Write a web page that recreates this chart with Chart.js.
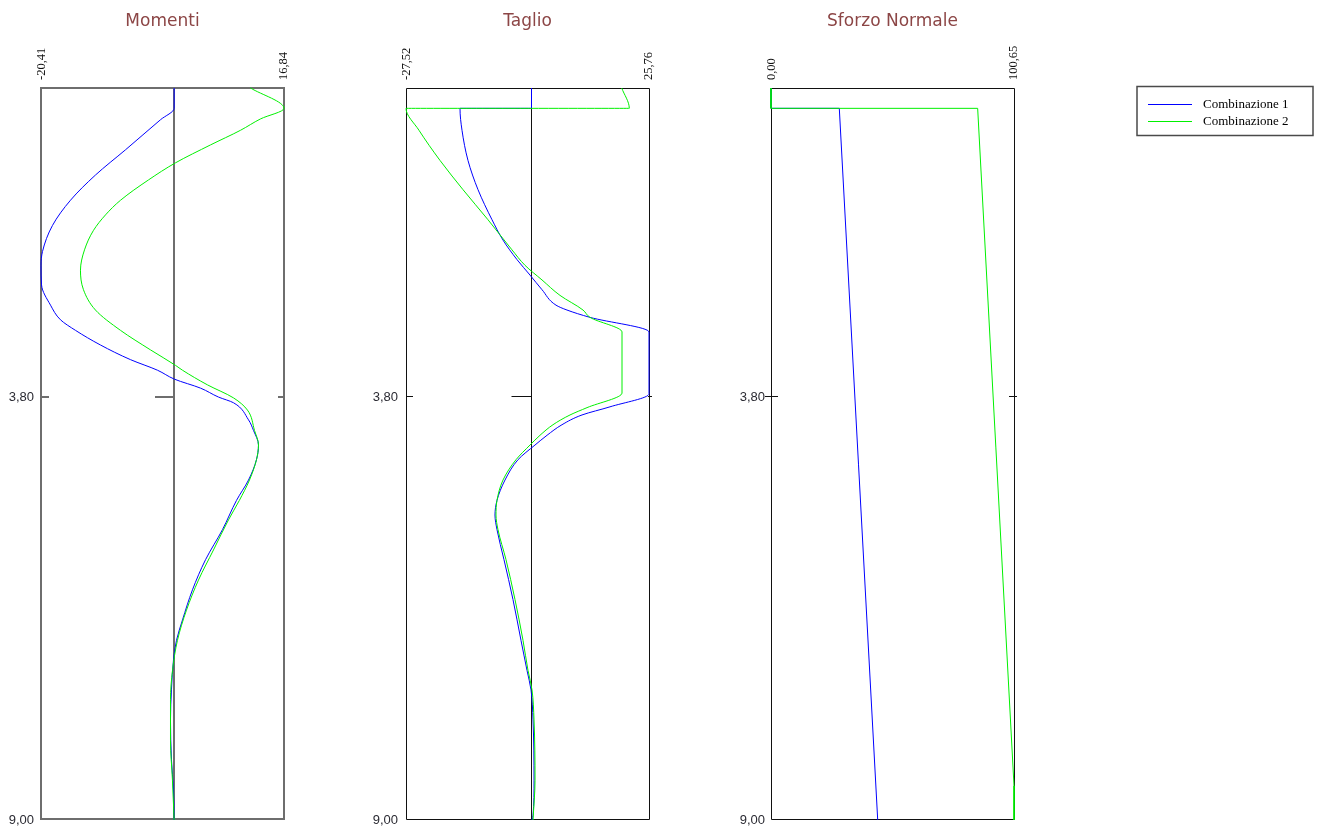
<!DOCTYPE html>
<html>
<head>
<meta charset="utf-8">
<script src="https://cdn.jsdelivr.net/npm/chart.js@4.4.1/dist/chart.umd.min.js"></script>
<style>
html,body{margin:0;padding:0;background:#fff;}
#wrap{position:relative;width:1319px;height:830px;overflow:hidden;background:#fff;}
#wrap canvas{position:absolute;left:0;top:0;}
</style>
</head>
<body>
<div id="wrap">
<canvas id="c0" width="1319" height="830"></canvas>
<canvas id="c1" width="1319" height="830"></canvas>
<canvas id="c2" width="1319" height="830"></canvas>
</div>
<script>
// ---------- data (depth in m, value) ----------
const seriesNames = ['Combinazione 1', 'Combinazione 2'];
const panelTitles = ['Momenti', 'Taglio', 'Sforzo Normale'];
const xMinValues = [-20.41, -27.52, 0.00];
const xMaxValues = [16.84, 25.76, 100.65];
const depthTicks = [3.80, 9.00];
const depthMax = 9.00;

// Momenti
const momDepth1 = [0, 0.25, 0.39, 0.76, 1.07, 1.38, 1.69, 2.01, 2.18, 2.42, 2.67, 2.85, 2.98, 3.16, 3.34, 3.47, 3.58, 3.69, 3.80, 3.87, 4.08, 4.21, 4.39, 4.57, 4.82, 5.07, 5.43, 5.80, 6.17, 6.54, 6.79, 7.03, 7.40, 7.77, 8.26, 8.63, 9.00];
const momVal1   = [0, 0, -2.09, -7.46, -12.06, -15.89, -18.65, -20.18, -20.41, -20.33, -18.95, -17.42, -15.12, -11.29, -6.69, -2.55, 0.05, 4.04, 6.80, 9.10, 11.40, 12.16, 12.93, 12.62, 11.40, 9.56, 7.41, 4.81, 2.81, 1.28, 0.36, -0.10, -0.41, -0.56, -0.41, -0.10, 0];
const momDepth2 = [0, 0.25, 0.38, 0.52, 0.70, 0.92, 1.13, 1.38, 1.56, 1.75, 1.99, 2.24, 2.48, 2.73, 2.98, 3.22, 3.41, 3.47, 3.65, 3.81, 3.96, 4.21, 4.39, 4.57, 4.82, 5.07, 5.31, 5.68, 6.05, 6.42, 6.79, 7.16, 7.52, 8.02, 8.51, 9.00];
const momVal2   = [11.70, 16.84, 13.24, 10.17, 5.57, 0.21, -3.93, -8.22, -10.52, -12.36, -13.74, -14.36, -13.90, -12.06, -8.22, -3.62, 0.21, 1.28, 5.11, 9.10, 11.24, 12.32, 12.93, 12.62, 11.55, 10.00, 8.33, 6.03, 3.73, 1.89, 0.51, -0.25, -0.56, -0.56, -0.26, 0];

// Taglio
const tagDepth1 = [0, 0.25, 0.25, 0.52, 0.89, 1.25, 1.62, 1.87, 2.11, 2.30, 2.48, 2.67, 2.73, 2.82, 3.00, 3.76, 3.92, 4.02, 4.14, 4.27, 4.39, 4.57, 4.82, 5.07, 5.25, 5.43, 5.80, 6.29, 6.79, 7.16, 7.40, 7.77, 8.51, 8.94, 9.00];
const tagVal1   = [0, 0, -15.68, -15.24, -13.93, -11.73, -8.66, -6.25, -3.18, -0.33, 2.30, 5.37, 7.78, 12.82, 25.76, 25.76, 17.21, 11.07, 6.68, 3.40, 0.76, -2.96, -5.81, -7.57, -8.01, -7.57, -6.03, -4.06, -2.31, -0.99, -0.11, 0.33, 0.55, 0.33, 0.11];
const tagDepth2 = [0, 0.25, 0.25, 0.52, 0.89, 1.25, 1.62, 1.99, 2.18, 2.36, 2.55, 2.73, 2.82, 3.00, 3.75, 3.93, 4.02, 4.14, 4.27, 4.39, 4.57, 4.82, 5.07, 5.25, 5.43, 5.80, 6.29, 6.79, 7.16, 7.40, 7.77, 8.51, 9.00];
const tagVal2   = [19.77, 21.44, -27.52, -24.67, -20.07, -15.02, -9.54, -4.28, -1.43, 2.30, 6.25, 11.29, 12.82, 19.84, 19.84, 12.17, 8.44, 4.71, 1.86, -0.33, -3.40, -6.25, -7.57, -7.79, -7.35, -5.59, -3.62, -1.87, -0.77, 0.11, 0.55, 0.77, 0.33];

// Sforzo Normale
const sfnDepth1 = [0, 0.25, 0.25, 9.00];
const sfnVal1   = [0, 0, 28.29, 44.20];
const sfnDepth2 = [0, 0.25, 0.25, 8.58, 9.00];
const sfnVal2   = [0, 0, 85.60, 100.65, 100.65];

// ---------- helpers ----------
const seriesColors = ['#0000ff', '#00f000'];
function fmt(v) { return v.toFixed(2).replace('.', ','); }
function pts(d, v) { return d.map((dd, i) => ({ x: v[i], y: dd })); }

const panels = [
  { L: 41, R: 284, frameColor: '#6e6e6e', frameWidth: 2, zero: true, smooth: true,
    ticks: [[0, 8, 'L'], [-19, 0, 'Z'], [-6, 1, 'R']], labelGap: 7,
    s1: pts(momDepth1, momVal1), s2: pts(momDepth2, momVal2) },
  { L: 406, R: 649, frameColor: '#111', frameWidth: 1, zero: true, smooth: true,
    ticks: [[0, 7, 'L'], [-20, 0, 'Z'], [-1, 3, 'R']], labelGap: 8,
    s1: pts(tagDepth1, tagVal1), s2: pts(tagDepth2, tagVal2) },
  { L: 771, R: 1014, frameColor: '#111', frameWidth: 1, zero: false, smooth: false,
    ticks: [[-6, 7, 'L'], [-5, 3, 'R']], labelGap: 6,
    s1: pts(sfnDepth1, sfnVal1), s2: pts(sfnDepth2, sfnVal2) }
];

function makeDecor(i, p) {
  return {
    id: 'decor' + i,
    beforeDatasetsDraw(chart) {
      const ctx = chart.ctx;
      const x = chart.scales.x, y = chart.scales.y;
      const L = x.getPixelForValue(xMinValues[i]);
      const R = x.getPixelForValue(xMaxValues[i]);
      const T = y.getPixelForValue(0);
      const B = y.getPixelForValue(depthMax);
      const o = p.frameWidth === 1 ? 0.5 : 0;
      ctx.save();
      ctx.strokeStyle = p.frameColor;
      ctx.lineWidth = p.frameWidth;
      ctx.beginPath();
      ctx.rect(L + o, T + o, R - L, B - T - 1);
      ctx.stroke();
      const Z = Math.floor(x.getPixelForValue(0)) + o;
      if (p.zero) {
        ctx.beginPath();
        ctx.moveTo(Z, T);
        ctx.lineTo(Z, B);
        ctx.stroke();
      }
      const Y = Math.round(y.getPixelForValue(depthTicks[0])) - o;
      p.ticks.forEach(t => {
        const base = t[2] === 'L' ? L : (t[2] === 'R' ? R : Z);
        ctx.beginPath();
        ctx.moveTo(base + t[0], Y);
        ctx.lineTo(base + t[1], Y);
        ctx.stroke();
      });
      ctx.restore();
    },
    afterDraw(chart) {
      const ctx = chart.ctx;
      const x = chart.scales.x, y = chart.scales.y;
      const L = x.getPixelForValue(xMinValues[i]);
      const R = x.getPixelForValue(xMaxValues[i]);
      ctx.save();
      ctx.fillStyle = '#8c4646';
      ctx.font = '17px "DejaVu Sans"';
      ctx.textAlign = 'center';
      ctx.textBaseline = 'alphabetic';
      ctx.fillText(panelTitles[i], (L + R) / 2, 26);
      ctx.fillStyle = '#111';
      ctx.font = '12.5px "Liberation Serif"';
      ctx.textAlign = 'left';
      ctx.textBaseline = 'middle';
      [[L, xMinValues[i]], [R - 1, xMaxValues[i]]].forEach(a => {
        ctx.save();
        ctx.translate(a[0] + 0.5, 80);
        ctx.rotate(-Math.PI / 2);
        ctx.fillText(fmt(a[1]), 0, 0);
        ctx.restore();
      });
      ctx.fillStyle = '#2b2b33';
      ctx.font = '13px "Liberation Sans"';
      ctx.textAlign = 'right';
      depthTicks.forEach(d => {
        ctx.fillText(fmt(d), L - p.labelGap, y.getPixelForValue(d));
      });
      if (i === 2) {
        ctx.strokeStyle = '#4a4a4a';
        ctx.lineWidth = 1.5;
        ctx.strokeRect(1137, 86.5, 176, 49);
        ctx.font = '13px "Liberation Serif"';
        ctx.textAlign = 'left';
        ctx.textBaseline = 'middle';
        chart.data.datasets.forEach((ds, k) => {
          const ly = 104.5 + 17 * k;
          ctx.strokeStyle = ds.borderColor;
          ctx.lineWidth = 1;
          ctx.beginPath();
          ctx.moveTo(1148, ly);
          ctx.lineTo(1192, ly);
          ctx.stroke();
          ctx.fillStyle = '#000';
          ctx.fillText(ds.label, 1203, ly);
        });
      }
      ctx.restore();
    }
  };
}

panels.forEach((p, i) => {
  const interp = p.smooth ? 'monotone' : 'default';
  new Chart(document.getElementById('c' + i), {
    type: 'line',
    data: {
      datasets: [
        { label: seriesNames[0], data: p.s1, borderColor: seriesColors[0], backgroundColor: seriesColors[0],
          borderWidth: 1, pointRadius: 0, tension: 0, cubicInterpolationMode: interp, fill: false, clip: 3, order: 2 },
        { label: seriesNames[1], data: p.s2, borderColor: seriesColors[1], backgroundColor: seriesColors[1],
          borderWidth: 1, pointRadius: 0, tension: 0, cubicInterpolationMode: interp, fill: false, clip: 3, order: 1 }
      ]
    },
    options: {
      indexAxis: 'y',
      responsive: false,
      animation: false,
      devicePixelRatio: 1,
      events: [],
      layout: { autoPadding: false, padding: { left: p.L, right: 1319 - p.R, top: 88, bottom: 830 - 820 } },
      plugins: { legend: { display: false }, tooltip: { enabled: false }, title: { display: false } },
      scales: {
        x: { type: 'linear', min: xMinValues[i], max: xMaxValues[i], display: false },
        y: { type: 'linear', min: 0, max: depthMax, reverse: true, display: false }
      }
    },
    plugins: [makeDecor(i, p)]
  });
});
</script>
</body>
</html>
